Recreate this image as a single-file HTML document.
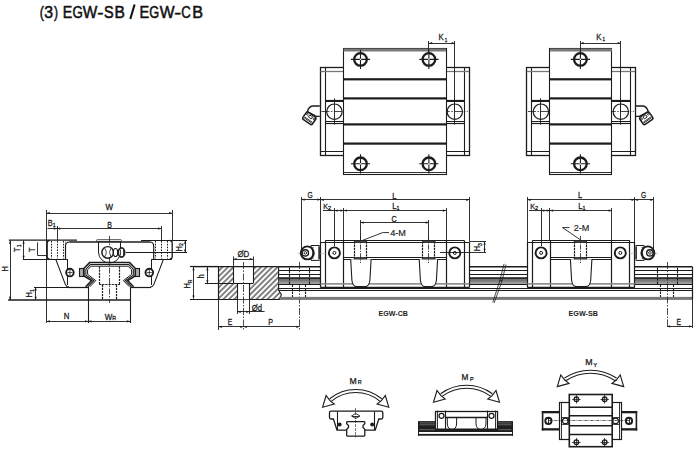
<!DOCTYPE html>
<html><head><meta charset="utf-8"><style>
html,body{margin:0;padding:0;background:#fff;}
svg{display:block;}
</style></head><body>
<svg width="697" height="454" viewBox="0 0 697 454">
<rect width="697" height="454" fill="#fff"/>
<text x="0" y="0" transform="translate(39.83,17.8) scale(0.733,1)" font-family="Liberation Sans" font-size="17.0" fill="#111" stroke="#111" stroke-width="0.55">(</text>
<text x="0" y="0" transform="translate(44.30,17.8) scale(0.931,1)" font-family="Liberation Sans" font-size="17.0" fill="#111" stroke="#111" stroke-width="0.55">3</text>
<text x="0" y="0" transform="translate(53.93,17.8) scale(0.710,1)" font-family="Liberation Sans" font-size="17.0" fill="#111" stroke="#111" stroke-width="0.55">)</text>
<text x="0" y="0" transform="translate(62.74,17.8) scale(0.836,1)" font-family="Liberation Sans" font-size="17.0" fill="#111" stroke="#111" stroke-width="0.55">E</text>
<text x="0" y="0" transform="translate(72.53,17.8) scale(0.784,1)" font-family="Liberation Sans" font-size="17.0" fill="#111" stroke="#111" stroke-width="0.55">G</text>
<text x="0" y="0" transform="translate(82.84,17.8) scale(0.905,1)" font-family="Liberation Sans" font-size="17.0" fill="#111" stroke="#111" stroke-width="0.55">W</text>
<text x="0" y="0" transform="translate(97.17,17.8) scale(1.104,1)" font-family="Liberation Sans" font-size="17.0" fill="#111" stroke="#111" stroke-width="0.55">-</text>
<text x="0" y="0" transform="translate(103.95,17.8) scale(0.848,1)" font-family="Liberation Sans" font-size="17.0" fill="#111" stroke="#111" stroke-width="0.55">S</text>
<text x="0" y="0" transform="translate(114.52,17.8) scale(0.918,1)" font-family="Liberation Sans" font-size="17.0" fill="#111" stroke="#111" stroke-width="0.55">B</text>
<text x="0" y="0" transform="translate(139.50,17.8) scale(0.857,1)" font-family="Liberation Sans" font-size="17.0" fill="#111" stroke="#111" stroke-width="0.55">E</text>
<text x="0" y="0" transform="translate(149.16,17.8) scale(0.748,1)" font-family="Liberation Sans" font-size="17.0" fill="#111" stroke="#111" stroke-width="0.55">G</text>
<text x="0" y="0" transform="translate(159.74,17.8) scale(0.924,1)" font-family="Liberation Sans" font-size="17.0" fill="#111" stroke="#111" stroke-width="0.55">W</text>
<text x="0" y="0" transform="translate(174.18,17.8) scale(1.224,1)" font-family="Liberation Sans" font-size="17.0" fill="#111" stroke="#111" stroke-width="0.55">-</text>
<text x="0" y="0" transform="translate(181.23,17.8) scale(0.771,1)" font-family="Liberation Sans" font-size="17.0" fill="#111" stroke="#111" stroke-width="0.55">C</text>
<text x="0" y="0" transform="translate(192.37,17.8) scale(0.951,1)" font-family="Liberation Sans" font-size="17.0" fill="#111" stroke="#111" stroke-width="0.55">B</text>
<line x1="130.3" y1="19" x2="134.6" y2="4.5" stroke="#111" stroke-width="2.1"/>
<g transform="translate(320.5,100) scale(1,1)">
<path d="M-0.7 6.0 L-8 6.0 Q-11.5 6.4 -13.2 11.6 L-4.2 16.4 L-0.7 16.4" stroke="#1c1c1c" stroke-width="1.4" fill="#fff" />
<g transform="translate(-11.2,18.3) rotate(35)">
<rect x="-5.8" y="-4.4" width="11.6" height="8.8" stroke="#1c1c1c" stroke-width="1.5" fill="#fff" rx="1.8"/>
<ellipse cx="0.2" cy="-1.8" rx="2" ry="1.4" stroke="#1c1c1c" stroke-width="0.9" fill="none"/>
<line x1="-4.8" y1="1.5" x2="4.8" y2="1.5" stroke="#1c1c1c" stroke-width="0.8" stroke-linecap="butt"/>
<line x1="-4.8" y1="2.5" x2="4.8" y2="2.5" stroke="#1c1c1c" stroke-width="0.8" stroke-linecap="butt"/>
<circle cx="-4" cy="-2.2" r="0.9" stroke="#1c1c1c" stroke-width="0.8" fill="none"/>
<circle cx="4.2" cy="-2.2" r="0.9" stroke="#1c1c1c" stroke-width="0.8" fill="none"/>
</g></g>
<g transform="translate(635.1,100) scale(-1,1)">
<path d="M-0.7 6.0 L-8 6.0 Q-11.5 6.4 -13.2 11.6 L-4.2 16.4 L-0.7 16.4" stroke="#1c1c1c" stroke-width="1.4" fill="#fff" />
<g transform="translate(-11.2,18.3) rotate(35)">
<rect x="-5.8" y="-4.4" width="11.6" height="8.8" stroke="#1c1c1c" stroke-width="1.5" fill="#fff" rx="1.8"/>
<ellipse cx="0.2" cy="-1.8" rx="2" ry="1.4" stroke="#1c1c1c" stroke-width="0.9" fill="none"/>
<line x1="-4.8" y1="1.5" x2="4.8" y2="1.5" stroke="#1c1c1c" stroke-width="0.8" stroke-linecap="butt"/>
<line x1="-4.8" y1="2.5" x2="4.8" y2="2.5" stroke="#1c1c1c" stroke-width="0.8" stroke-linecap="butt"/>
<circle cx="-4" cy="-2.2" r="0.9" stroke="#1c1c1c" stroke-width="0.8" fill="none"/>
<circle cx="4.2" cy="-2.2" r="0.9" stroke="#1c1c1c" stroke-width="0.8" fill="none"/>
</g></g>
<rect x="320.5" y="67.5" width="149.0" height="88.0" stroke="#1c1c1c" stroke-width="1.3" fill="none"/>
<line x1="325.5" y1="67.5" x2="325.5" y2="155.8" stroke="#1c1c1c" stroke-width="1.1" stroke-linecap="butt"/>
<line x1="464.5" y1="67.5" x2="464.5" y2="155.8" stroke="#1c1c1c" stroke-width="1.1" stroke-linecap="butt"/>
<line x1="320.5" y1="71.5" x2="343.6" y2="71.5" stroke="#777" stroke-width="1.3" stroke-linecap="butt"/>
<line x1="446.1" y1="71.5" x2="469.1" y2="71.5" stroke="#777" stroke-width="1.3" stroke-linecap="butt"/>
<line x1="320.5" y1="151.5" x2="343.6" y2="151.5" stroke="#1c1c1c" stroke-width="1.0" stroke-linecap="butt"/>
<line x1="446.1" y1="151.5" x2="469.1" y2="151.5" stroke="#1c1c1c" stroke-width="1.0" stroke-linecap="butt"/>
<line x1="325.3" y1="100.5" x2="343.6" y2="100.5" stroke="#1c1c1c" stroke-width="1.2" stroke-linecap="butt"/>
<line x1="325.3" y1="101.5" x2="343.6" y2="101.5" stroke="#1c1c1c" stroke-width="1.0" stroke-linecap="butt"/>
<line x1="325.3" y1="121.5" x2="343.6" y2="121.5" stroke="#1c1c1c" stroke-width="1.0" stroke-linecap="butt"/>
<line x1="325.3" y1="123.5" x2="343.6" y2="123.5" stroke="#1c1c1c" stroke-width="1.2" stroke-linecap="butt"/>
<line x1="446.1" y1="100.5" x2="464.3" y2="100.5" stroke="#1c1c1c" stroke-width="1.2" stroke-linecap="butt"/>
<line x1="446.1" y1="101.5" x2="464.3" y2="101.5" stroke="#1c1c1c" stroke-width="1.0" stroke-linecap="butt"/>
<line x1="446.1" y1="121.5" x2="464.3" y2="121.5" stroke="#1c1c1c" stroke-width="1.0" stroke-linecap="butt"/>
<line x1="446.1" y1="123.5" x2="464.3" y2="123.5" stroke="#1c1c1c" stroke-width="1.2" stroke-linecap="butt"/>
<circle cx="334.4" cy="111.7" r="7.7" stroke="#1c1c1c" stroke-width="1.2" fill="none"/>
<line x1="321.4" y1="111.5" x2="347.4" y2="111.5" stroke="#1c1c1c" stroke-width="0.8" stroke-linecap="butt" stroke-dasharray="8,1.5,1.5,1.5"/>
<line x1="334.5" y1="98.3" x2="334.5" y2="124.8" stroke="#1c1c1c" stroke-width="0.9" stroke-linecap="butt"/>
<circle cx="454.8" cy="111.7" r="7.7" stroke="#1c1c1c" stroke-width="1.2" fill="none"/>
<line x1="441.8" y1="111.5" x2="467.8" y2="111.5" stroke="#1c1c1c" stroke-width="0.8" stroke-linecap="butt" stroke-dasharray="8,1.5,1.5,1.5"/>
<line x1="454.5" y1="98.3" x2="454.5" y2="124.8" stroke="#1c1c1c" stroke-width="0.9" stroke-linecap="butt"/>
<rect x="343.6" y="48.5" width="102.5" height="125.9" fill="#fff"/>
<rect x="343.5" y="48.5" width="103.0" height="126.0" stroke="#1c1c1c" stroke-width="1.1" fill="none"/>
<rect x="343.6" y="48.5" width="102.5" height="3.0" fill="#7a7a7a"/>
<rect x="343.6" y="78.2" width="102.5" height="2.2" fill="#1c1c1c"/>
<rect x="343.6" y="97.30000000000001" width="102.5" height="2.2" fill="#1c1c1c"/>
<rect x="343.6" y="123.30000000000001" width="102.5" height="2.2" fill="#1c1c1c"/>
<rect x="343.6" y="142.5" width="102.5" height="2.2" fill="#1c1c1c"/>
<line x1="343.6" y1="172.5" x2="446.1" y2="172.5" stroke="#1c1c1c" stroke-width="0.9" stroke-linecap="butt"/>
<circle cx="360.5" cy="59.4" r="6.3" stroke="#1c1c1c" stroke-width="2.3" fill="none"/>
<line x1="350.9" y1="59.4" x2="370.1" y2="59.4" stroke="#1c1c1c" stroke-width="1.1" stroke-dasharray="9.0,1.2"/>
<line x1="360.5" y1="49.800000000000004" x2="360.5" y2="69.0" stroke="#1c1c1c" stroke-width="1.1" stroke-dasharray="9.0,1.2"/>
<circle cx="360.5" cy="163.8" r="6.3" stroke="#1c1c1c" stroke-width="2.3" fill="none"/>
<line x1="350.9" y1="163.8" x2="370.1" y2="163.8" stroke="#1c1c1c" stroke-width="1.1" stroke-dasharray="9.0,1.2"/>
<line x1="360.5" y1="154.2" x2="360.5" y2="173.40000000000003" stroke="#1c1c1c" stroke-width="1.1" stroke-dasharray="9.0,1.2"/>
<circle cx="428.9" cy="59.4" r="6.3" stroke="#1c1c1c" stroke-width="2.3" fill="none"/>
<line x1="419.29999999999995" y1="59.4" x2="438.5" y2="59.4" stroke="#1c1c1c" stroke-width="1.1" stroke-dasharray="9.0,1.2"/>
<line x1="428.9" y1="49.800000000000004" x2="428.9" y2="69.0" stroke="#1c1c1c" stroke-width="1.1" stroke-dasharray="9.0,1.2"/>
<circle cx="428.9" cy="163.8" r="6.3" stroke="#1c1c1c" stroke-width="2.3" fill="none"/>
<line x1="419.29999999999995" y1="163.8" x2="438.5" y2="163.8" stroke="#1c1c1c" stroke-width="1.1" stroke-dasharray="9.0,1.2"/>
<line x1="428.9" y1="154.2" x2="428.9" y2="173.40000000000003" stroke="#1c1c1c" stroke-width="1.1" stroke-dasharray="9.0,1.2"/>
<line x1="428.5" y1="41" x2="428.5" y2="52" stroke="#1c1c1c" stroke-width="0.9" stroke-linecap="butt"/>
<line x1="454.5" y1="41" x2="454.5" y2="111.5" stroke="#1c1c1c" stroke-width="0.9" stroke-linecap="butt"/>
<line x1="428.9" y1="43.5" x2="454.8" y2="43.5" stroke="#1c1c1c" stroke-width="0.9" stroke-linecap="butt"/>
<path d="M428.90 43.20 L432.10 42.10 L432.10 44.30 Z" fill="#1c1c1c"/>
<path d="M454.80 43.20 L451.60 44.30 L451.60 42.10 Z" fill="#1c1c1c"/>
<rect x="526.5" y="67.5" width="109.0" height="88.0" stroke="#1c1c1c" stroke-width="1.3" fill="none"/>
<line x1="531.5" y1="67.5" x2="531.5" y2="155.8" stroke="#1c1c1c" stroke-width="1.1" stroke-linecap="butt"/>
<line x1="630.5" y1="67.5" x2="630.5" y2="155.8" stroke="#1c1c1c" stroke-width="1.1" stroke-linecap="butt"/>
<line x1="526.9" y1="71.5" x2="549.9" y2="71.5" stroke="#777" stroke-width="1.3" stroke-linecap="butt"/>
<line x1="611.9" y1="71.5" x2="635.1" y2="71.5" stroke="#777" stroke-width="1.3" stroke-linecap="butt"/>
<line x1="526.9" y1="151.5" x2="549.9" y2="151.5" stroke="#1c1c1c" stroke-width="1.0" stroke-linecap="butt"/>
<line x1="611.9" y1="151.5" x2="635.1" y2="151.5" stroke="#1c1c1c" stroke-width="1.0" stroke-linecap="butt"/>
<line x1="531.6999999999999" y1="100.5" x2="549.9" y2="100.5" stroke="#1c1c1c" stroke-width="1.2" stroke-linecap="butt"/>
<line x1="531.6999999999999" y1="101.5" x2="549.9" y2="101.5" stroke="#1c1c1c" stroke-width="1.0" stroke-linecap="butt"/>
<line x1="531.6999999999999" y1="121.5" x2="549.9" y2="121.5" stroke="#1c1c1c" stroke-width="1.0" stroke-linecap="butt"/>
<line x1="531.6999999999999" y1="123.5" x2="549.9" y2="123.5" stroke="#1c1c1c" stroke-width="1.2" stroke-linecap="butt"/>
<line x1="611.9" y1="100.5" x2="630.3000000000001" y2="100.5" stroke="#1c1c1c" stroke-width="1.2" stroke-linecap="butt"/>
<line x1="611.9" y1="101.5" x2="630.3000000000001" y2="101.5" stroke="#1c1c1c" stroke-width="1.0" stroke-linecap="butt"/>
<line x1="611.9" y1="121.5" x2="630.3000000000001" y2="121.5" stroke="#1c1c1c" stroke-width="1.0" stroke-linecap="butt"/>
<line x1="611.9" y1="123.5" x2="630.3000000000001" y2="123.5" stroke="#1c1c1c" stroke-width="1.2" stroke-linecap="butt"/>
<circle cx="540.9" cy="111.7" r="7.7" stroke="#1c1c1c" stroke-width="1.2" fill="none"/>
<line x1="527.9" y1="111.5" x2="553.9" y2="111.5" stroke="#1c1c1c" stroke-width="0.8" stroke-linecap="butt" stroke-dasharray="8,1.5,1.5,1.5"/>
<line x1="540.5" y1="98.3" x2="540.5" y2="124.8" stroke="#1c1c1c" stroke-width="0.9" stroke-linecap="butt"/>
<circle cx="620.8" cy="111.7" r="7.7" stroke="#1c1c1c" stroke-width="1.2" fill="none"/>
<line x1="607.8" y1="111.5" x2="633.8" y2="111.5" stroke="#1c1c1c" stroke-width="0.8" stroke-linecap="butt" stroke-dasharray="8,1.5,1.5,1.5"/>
<line x1="620.5" y1="98.3" x2="620.5" y2="124.8" stroke="#1c1c1c" stroke-width="0.9" stroke-linecap="butt"/>
<rect x="549.9" y="48.5" width="62.0" height="125.9" fill="#fff"/>
<rect x="549.5" y="48.5" width="62.0" height="126.0" stroke="#1c1c1c" stroke-width="1.1" fill="none"/>
<rect x="549.9" y="48.5" width="62.0" height="3.0" fill="#7a7a7a"/>
<rect x="549.9" y="78.2" width="62.0" height="2.2" fill="#1c1c1c"/>
<rect x="549.9" y="97.30000000000001" width="62.0" height="2.2" fill="#1c1c1c"/>
<rect x="549.9" y="123.30000000000001" width="62.0" height="2.2" fill="#1c1c1c"/>
<rect x="549.9" y="142.5" width="62.0" height="2.2" fill="#1c1c1c"/>
<line x1="549.9" y1="172.5" x2="611.9" y2="172.5" stroke="#1c1c1c" stroke-width="0.9" stroke-linecap="butt"/>
<circle cx="580.4" cy="59.4" r="6.3" stroke="#1c1c1c" stroke-width="2.3" fill="none"/>
<line x1="570.8000000000001" y1="59.4" x2="589.9999999999999" y2="59.4" stroke="#1c1c1c" stroke-width="1.1" stroke-dasharray="9.0,1.2"/>
<line x1="580.4" y1="49.800000000000004" x2="580.4" y2="69.0" stroke="#1c1c1c" stroke-width="1.1" stroke-dasharray="9.0,1.2"/>
<circle cx="580.4" cy="163.8" r="6.3" stroke="#1c1c1c" stroke-width="2.3" fill="none"/>
<line x1="570.8000000000001" y1="163.8" x2="589.9999999999999" y2="163.8" stroke="#1c1c1c" stroke-width="1.1" stroke-dasharray="9.0,1.2"/>
<line x1="580.4" y1="154.2" x2="580.4" y2="173.40000000000003" stroke="#1c1c1c" stroke-width="1.1" stroke-dasharray="9.0,1.2"/>
<line x1="580.5" y1="41" x2="580.5" y2="52" stroke="#1c1c1c" stroke-width="0.9" stroke-linecap="butt"/>
<line x1="620.5" y1="41" x2="620.5" y2="111.5" stroke="#1c1c1c" stroke-width="0.9" stroke-linecap="butt"/>
<line x1="580.4" y1="43.5" x2="620.8" y2="43.5" stroke="#1c1c1c" stroke-width="0.9" stroke-linecap="butt"/>
<path d="M580.40 43.20 L583.60 42.10 L583.60 44.30 Z" fill="#1c1c1c"/>
<path d="M620.80 43.20 L617.60 44.30 L617.60 42.10 Z" fill="#1c1c1c"/>
<text x="0" y="0" transform="translate(438.5,39.7) scale(0.88,1)" font-family="Liberation Sans" font-size="8.9" fill="#1c1c1c" text-anchor="start" stroke="#1c1c1c" stroke-width="0.28" >K<tspan font-size="5.2" dy="1.8"><tspan dx="1.2">1</tspan></tspan></text>
<text x="0" y="0" transform="translate(596.3,39.5) scale(0.88,1)" font-family="Liberation Sans" font-size="8.9" fill="#1c1c1c" text-anchor="start" stroke="#1c1c1c" stroke-width="0.28" >K<tspan font-size="5.2" dy="1.8"><tspan dx="1.2">1</tspan></tspan></text>
<line x1="46.5" y1="210" x2="46.5" y2="323" stroke="#1c1c1c" stroke-width="0.9" stroke-linecap="butt"/>
<line x1="172.5" y1="210" x2="172.5" y2="240.5" stroke="#1c1c1c" stroke-width="0.9" stroke-linecap="butt"/>
<line x1="57.5" y1="226" x2="57.5" y2="240" stroke="#1c1c1c" stroke-width="0.9" stroke-linecap="butt"/>
<line x1="161.5" y1="226" x2="161.5" y2="240" stroke="#1c1c1c" stroke-width="0.9" stroke-linecap="butt"/>
<line x1="46.6" y1="213.5" x2="172.2" y2="213.5" stroke="#1c1c1c" stroke-width="0.9" stroke-linecap="butt"/>
<path d="M46.60 213.00 L49.80 211.90 L49.80 214.10 Z" fill="#1c1c1c"/>
<path d="M172.20 213.00 L169.00 214.10 L169.00 211.90 Z" fill="#1c1c1c"/>
<line x1="57" y1="228.5" x2="161.4" y2="228.5" stroke="#1c1c1c" stroke-width="0.9" stroke-linecap="butt"/>
<path d="M57.00 228.60 L60.20 227.50 L60.20 229.70 Z" fill="#1c1c1c"/>
<path d="M161.40 228.60 L158.20 229.70 L158.20 227.50 Z" fill="#1c1c1c"/>
<line x1="47.5" y1="228.5" x2="57" y2="228.5" stroke="#1c1c1c" stroke-width="0.9" stroke-linecap="butt"/>
<path d="M57.00 228.60 L53.80 229.70 L53.80 227.50 Z" fill="#1c1c1c"/>
<text x="0" y="0" transform="translate(109.3,210.4) scale(0.95,1)" font-family="Liberation Sans" font-size="8.4" font-weight="normal" text-anchor="middle" fill="#1c1c1c"  stroke="#1c1c1c" stroke-width="0.28">W</text>
<text x="0" y="0" transform="translate(109.5,227.5) scale(0.85,1)" font-family="Liberation Sans" font-size="8.2" font-weight="normal" text-anchor="middle" fill="#1c1c1c"  stroke="#1c1c1c" stroke-width="0.28">B</text>
<text x="0" y="0" transform="translate(47.8,226) scale(0.88,1)" font-family="Liberation Sans" font-size="8.4" fill="#1c1c1c" text-anchor="start" stroke="#1c1c1c" stroke-width="0.28" >B<tspan font-size="6" dy="0.5">1</tspan></text>
<line x1="8.8" y1="240.1" x2="77" y2="240.1" stroke="#1c1c1c" stroke-width="1.4" stroke-linecap="butt"/>
<line x1="141" y1="240.5" x2="187" y2="240.5" stroke="#1c1c1c" stroke-width="1.1" stroke-linecap="butt"/>
<line x1="69.3" y1="242" x2="149.9" y2="242" stroke="#1c1c1c" stroke-width="1.5" stroke-linecap="butt"/>
<line x1="10.5" y1="240.5" x2="10.5" y2="300" stroke="#1c1c1c" stroke-width="0.9" stroke-linecap="butt"/>
<path d="M10.00 240.50 L11.10 243.70 L8.90 243.70 Z" fill="#1c1c1c"/>
<path d="M10.00 300.00 L8.90 296.80 L11.10 296.80 Z" fill="#1c1c1c"/>
<line x1="23.5" y1="240.5" x2="23.5" y2="259" stroke="#1c1c1c" stroke-width="0.9" stroke-linecap="butt"/>
<path d="M23.60 240.50 L24.70 243.70 L22.50 243.70 Z" fill="#1c1c1c"/>
<path d="M23.60 259.00 L22.50 255.80 L24.70 255.80 Z" fill="#1c1c1c"/>
<line x1="22.9" y1="259.5" x2="67.2" y2="259.5" stroke="#1c1c1c" stroke-width="1" stroke-linecap="butt"/>
<line x1="37.5" y1="242.3" x2="37.5" y2="255" stroke="#1c1c1c" stroke-width="0.9" stroke-linecap="butt"/>
<line x1="37.3" y1="255.5" x2="46.6" y2="255.5" stroke="#1c1c1c" stroke-width="0.9" stroke-linecap="butt"/>
<line x1="35.5" y1="287.2" x2="35.5" y2="300" stroke="#1c1c1c" stroke-width="0.9" stroke-linecap="butt"/>
<path d="M35.70 287.20 L36.80 290.40 L34.60 290.40 Z" fill="#1c1c1c"/>
<path d="M35.70 300.00 L34.60 296.80 L36.80 296.80 Z" fill="#1c1c1c"/>
<line x1="34" y1="287.5" x2="68" y2="287.5" stroke="#1c1c1c" stroke-width="1" stroke-linecap="butt"/>
<line x1="8.1" y1="300" x2="130" y2="300" stroke="#1c1c1c" stroke-width="1.4" stroke-linecap="butt"/>
<text font-family="Liberation Sans" font-size="8.4" fill="#1c1c1c" transform="translate(7.8,271.4) rotate(-90) scale(0.88,1)" stroke="#1c1c1c" stroke-width="0.28" >H</text>
<text font-family="Liberation Sans" font-size="8.4" fill="#1c1c1c" transform="translate(19.8,251.9) rotate(-90) scale(0.88,1)" stroke="#1c1c1c" stroke-width="0.28" >T<tspan font-size="5.8" dy="1.6">1</tspan></text>
<text font-family="Liberation Sans" font-size="8.4" fill="#1c1c1c" transform="translate(34.9,251.9) rotate(-90) scale(0.88,1)" stroke="#1c1c1c" stroke-width="0.28" >T</text>
<text font-family="Liberation Sans" font-size="8.4" fill="#1c1c1c" transform="translate(32.1,297.4) rotate(-90) scale(0.88,1)" stroke="#1c1c1c" stroke-width="0.28" >H<tspan font-size="5.8" dy="1.6">1</tspan></text>
<text font-family="Liberation Sans" font-size="8.4" fill="#1c1c1c" transform="translate(181.6,251.4) rotate(-90) scale(0.88,1)" stroke="#1c1c1c" stroke-width="0.28" >H<tspan font-size="5.8" dy="1.6">2</tspan></text>
<line x1="185.5" y1="240.5" x2="185.5" y2="252.7" stroke="#1c1c1c" stroke-width="0.9" stroke-linecap="butt"/>
<path d="M185.10 240.50 L186.20 243.70 L184.00 243.70 Z" fill="#1c1c1c"/>
<path d="M185.10 252.70 L184.00 249.50 L186.20 249.50 Z" fill="#1c1c1c"/>
<line x1="126" y1="252.5" x2="187" y2="252.5" stroke="#1c1c1c" stroke-width="1.1" stroke-linecap="butt"/>
<line x1="46.6" y1="321.5" x2="88.2" y2="321.5" stroke="#1c1c1c" stroke-width="0.9" stroke-linecap="butt"/>
<path d="M46.60 321.30 L49.80 320.20 L49.80 322.40 Z" fill="#1c1c1c"/>
<path d="M88.20 321.30 L85.00 322.40 L85.00 320.20 Z" fill="#1c1c1c"/>
<line x1="88.2" y1="321.5" x2="130" y2="321.5" stroke="#1c1c1c" stroke-width="0.9" stroke-linecap="butt"/>
<path d="M88.20 321.30 L91.40 320.20 L91.40 322.40 Z" fill="#1c1c1c"/>
<path d="M130.00 321.30 L126.80 322.40 L126.80 320.20 Z" fill="#1c1c1c"/>
<line x1="88.5" y1="287" x2="88.5" y2="323" stroke="#1c1c1c" stroke-width="1.1" stroke-linecap="butt"/>
<line x1="130.5" y1="287" x2="130.5" y2="323" stroke="#1c1c1c" stroke-width="1.1" stroke-linecap="butt"/>
<text x="0" y="0" transform="translate(66.5,319.4) scale(0.9,1)" font-family="Liberation Sans" font-size="8.6" font-weight="normal" text-anchor="middle" fill="#1c1c1c"  stroke="#1c1c1c" stroke-width="0.28">N</text>
<text x="0" y="0" transform="translate(104.8,319.6) scale(0.95,1)" font-family="Liberation Sans" font-size="8.4" fill="#1c1c1c" text-anchor="start" stroke="#1c1c1c" stroke-width="0.28" >W<tspan font-size="5.6" dy="0.4">R</tspan></text>
<path d="M49.5 240.5 Q47.2 240.5 47.2 243 L47.2 256.5 Q47.2 259 49.5 259" stroke="#1c1c1c" stroke-width="1.3" fill="none" />
<line x1="51.5" y1="241" x2="51.5" y2="258.5" stroke="#1c1c1c" stroke-width="1" stroke-linecap="butt" stroke-dasharray="1.6,1.2"/>
<line x1="57.5" y1="241" x2="57.5" y2="258.5" stroke="#1c1c1c" stroke-width="1" stroke-linecap="butt" stroke-dasharray="1.6,1.2"/>
<line x1="63.5" y1="241" x2="63.5" y2="258.5" stroke="#1c1c1c" stroke-width="1" stroke-linecap="butt" stroke-dasharray="1.6,1.2"/>
<line x1="65.5" y1="241" x2="65.5" y2="258.5" stroke="#777" stroke-width="0.6" stroke-linecap="butt"/>
<path d="M169.8 240.5 Q172.2 240.5 172.2 243 L172.2 256.5 Q172.2 259 169.8 259" stroke="#1c1c1c" stroke-width="1.3" fill="none" />
<line x1="155.5" y1="241" x2="155.5" y2="258.5" stroke="#1c1c1c" stroke-width="1" stroke-linecap="butt" stroke-dasharray="1.6,1.2"/>
<line x1="161.5" y1="241" x2="161.5" y2="258.5" stroke="#1c1c1c" stroke-width="1" stroke-linecap="butt" stroke-dasharray="1.6,1.2"/>
<line x1="167.5" y1="241" x2="167.5" y2="258.5" stroke="#1c1c1c" stroke-width="1" stroke-linecap="butt" stroke-dasharray="1.6,1.2"/>
<line x1="151.5" y1="259.5" x2="172" y2="259.5" stroke="#1c1c1c" stroke-width="1" stroke-linecap="butt"/>
<path d="M55.7 259.1 L65.4 284.6 Q66.4 287 69 287" stroke="#1c1c1c" stroke-width="1.1" fill="none" />
<line x1="67.5" y1="259.1" x2="67.5" y2="285" stroke="#1c1c1c" stroke-width="1" stroke-linecap="butt"/>
<path d="M163.5 259.1 L153.8 284.6 Q152.8 287 150.2 287" stroke="#1c1c1c" stroke-width="1.1" fill="none" />
<line x1="151.5" y1="259.1" x2="151.5" y2="285" stroke="#1c1c1c" stroke-width="1" stroke-linecap="butt"/>
<line x1="68" y1="287.5" x2="88.2" y2="287.5" stroke="#1c1c1c" stroke-width="1.2" stroke-linecap="butt"/>
<line x1="130" y1="287.5" x2="151" y2="287.5" stroke="#1c1c1c" stroke-width="1.2" stroke-linecap="butt"/>
<path d="M65.5 259 L65.5 246 Q65.5 242 69.5 242" stroke="#1c1c1c" stroke-width="1.2" fill="none" />
<path d="M153.7 259 L153.7 246 Q153.7 242 149.7 242" stroke="#1c1c1c" stroke-width="1.2" fill="none" />
<circle cx="69.9" cy="272.6" r="3.8" stroke="#1c1c1c" stroke-width="1.9" fill="#fff"/>
<line x1="67.30000000000001" y1="272.6" x2="72.5" y2="272.6" stroke="#1c1c1c" stroke-width="0.8"/><line x1="69.9" y1="270" x2="69.9" y2="275.2" stroke="#1c1c1c" stroke-width="0.8"/>
<circle cx="149.3" cy="272.6" r="3.8" stroke="#1c1c1c" stroke-width="1.9" fill="#fff"/>
<line x1="146.70000000000002" y1="272.6" x2="151.9" y2="272.6" stroke="#1c1c1c" stroke-width="0.8"/><line x1="149.3" y1="270" x2="149.3" y2="275.2" stroke="#1c1c1c" stroke-width="0.8"/>
<path d="M85.6 286.8 L91.6 280.6 L84.0 276.0 L84.0 268.3 L89.6 262.6 L109.6 262.6 L129.6 262.6 L135.2 268.3 L135.2 276.0 L127.6 280.6 L133.6 286.8" stroke="#1c1c1c" stroke-width="1.5" fill="none" stroke-linejoin="miter"/>
<path d="M87.7 286.8 L93.8 280.6 L85.9 275.2 L85.9 269.1 L90.4 264.5 L109.6 264.5 L128.8 264.5 L133.3 269.1 L133.3 275.2 L125.4 280.6 L131.5 286.8" stroke="#1c1c1c" stroke-width="1.1" fill="none" stroke-linejoin="miter"/>
<path d="M89.8 286.8 L95.8 280.6 L87.6 274.4 L87.6 269.8 L91.1 266.2 L109.6 266.2 L128.1 266.2 L131.6 269.8 L131.6 274.4 L123.4 280.6 L129.4 286.8" stroke="#1c1c1c" stroke-width="1.0" fill="none" stroke-linejoin="miter"/>
<rect x="79.6" y="268.8" width="4" height="7.2" fill="#aaa"/>
<rect x="79.5" y="268.5" width="4.0" height="8.0" stroke="#1c1c1c" stroke-width="1.1" fill="none"/>
<rect x="135.6" y="268.8" width="4" height="7.2" fill="#aaa"/>
<rect x="135.5" y="268.5" width="4.0" height="8.0" stroke="#1c1c1c" stroke-width="1.1" fill="none"/>
<line x1="99.5" y1="266.5" x2="99.5" y2="284.7" stroke="#1c1c1c" stroke-width="1.2" stroke-linecap="butt" stroke-dasharray="2.2,0.9"/>
<line x1="119.5" y1="266.5" x2="119.5" y2="284.7" stroke="#1c1c1c" stroke-width="1.2" stroke-linecap="butt" stroke-dasharray="2.2,0.9"/>
<line x1="99.2" y1="284.5" x2="119.9" y2="284.5" stroke="#1c1c1c" stroke-width="1.1" stroke-linecap="butt" stroke-dasharray="2.2,0.9"/>
<line x1="102.5" y1="284.7" x2="102.5" y2="299" stroke="#1c1c1c" stroke-width="1.2" stroke-linecap="butt" stroke-dasharray="2.2,0.9"/>
<line x1="116.5" y1="284.7" x2="116.5" y2="299" stroke="#1c1c1c" stroke-width="1.2" stroke-linecap="butt" stroke-dasharray="2.2,0.9"/>
<line x1="109.5" y1="236" x2="109.5" y2="303" stroke="#1c1c1c" stroke-width="0.8" stroke-linecap="butt" stroke-dasharray="6,1.5,1.5,1.5"/>
<path d="M98.5 241.5 L98.5 252 A11 11 0 0 0 120.5 252 L120.5 241.5" stroke="#1c1c1c" stroke-width="1.0" fill="none" />
<rect x="96.5" y="239.6" width="25" height="1.8" stroke="#1c1c1c" stroke-width="0.7" fill="none" rx="0.9"/>
<circle cx="107.7" cy="252.4" r="5.8" stroke="#1c1c1c" stroke-width="1.4" fill="#fff"/>
<path d="M104.5 248 Q108 252 104.5 257" stroke="#1c1c1c" stroke-width="0.8" fill="none" />
<path d="M111 248 Q108 252 111 257" stroke="#1c1c1c" stroke-width="0.8" fill="none" />
<ellipse cx="115.5" cy="252.5" rx="2.2" ry="4" stroke="#1c1c1c" stroke-width="1.2" fill="#fff"/>
<ellipse cx="121.5" cy="252.5" rx="3.2" ry="4.6" stroke="#1c1c1c" stroke-width="1.6" fill="#fff"/>
<line x1="120.5" y1="249.5" x2="120.5" y2="255.5" stroke="#1c1c1c" stroke-width="0.8" stroke-linecap="butt"/>
<line x1="123.5" y1="249.5" x2="123.5" y2="255.5" stroke="#1c1c1c" stroke-width="0.8" stroke-linecap="butt"/>
<line x1="190" y1="266.5" x2="218.5" y2="266.5" stroke="#1c1c1c" stroke-width="1.2" stroke-linecap="butt"/>
<line x1="190" y1="299.5" x2="280" y2="299.5" stroke="#1c1c1c" stroke-width="1.2" stroke-linecap="butt"/>
<line x1="193.5" y1="267.1" x2="193.5" y2="298.7" stroke="#1c1c1c" stroke-width="0.9" stroke-linecap="butt"/>
<path d="M193.50 267.10 L194.60 270.30 L192.40 270.30 Z" fill="#1c1c1c"/>
<path d="M193.50 298.70 L192.40 295.50 L194.60 295.50 Z" fill="#1c1c1c"/>
<text font-family="Liberation Sans" font-size="8.4" fill="#1c1c1c" transform="translate(190.2,288.6) rotate(-90) scale(0.88,1)" stroke="#1c1c1c" stroke-width="0.28" >H<tspan font-size="5.8" dy="1.6">R</tspan></text>
<line x1="207.5" y1="267.1" x2="207.5" y2="283.5" stroke="#1c1c1c" stroke-width="0.9" stroke-linecap="butt"/>
<path d="M207.40 267.10 L208.50 270.30 L206.30 270.30 Z" fill="#1c1c1c"/>
<path d="M207.40 283.50 L206.30 280.30 L208.50 280.30 Z" fill="#1c1c1c"/>
<line x1="205" y1="283.5" x2="233.5" y2="283.5" stroke="#1c1c1c" stroke-width="1" stroke-linecap="butt"/>
<text font-family="Liberation Sans" font-size="8.4" fill="#1c1c1c" transform="translate(203.8,278.6) rotate(-90) scale(0.88,1)" stroke="#1c1c1c" stroke-width="0.28" >h</text>
<defs><pattern id="hatch" patternUnits="userSpaceOnUse" width="3.9" height="3.9" patternTransform="rotate(45) translate(1,0)"><line x1="1.95" y1="0" x2="1.95" y2="3.9" stroke="#111" stroke-width="1.05"/></pattern></defs>
<path d="M218.6 266.6 L278.6 266.6 L278.6 290.2 L281.4 294.6 L279.5 299.2 L218.6 299.2 Z" fill="url(#hatch)"/>
<rect x="233.5" y="266.6" width="19.5" height="16.799999999999955" fill="#fff"/>
<rect x="237.5" y="283.4" width="12" height="15.800000000000011" fill="#fff"/>
<line x1="218.5" y1="266.6" x2="218.5" y2="299.2" stroke="#1c1c1c" stroke-width="1.2" stroke-linecap="butt"/>
<path d="M278.6 266.6 L278.6 290.2 L281.4 294.6 L279.5 299.2" stroke="#1c1c1c" stroke-width="1.1" fill="none" />
<line x1="233.5" y1="266.6" x2="233.5" y2="283.4" stroke="#1c1c1c" stroke-width="1.1" stroke-linecap="butt"/>
<line x1="253.5" y1="266.6" x2="253.5" y2="283.4" stroke="#1c1c1c" stroke-width="1.1" stroke-linecap="butt"/>
<line x1="233.5" y1="283.5" x2="253" y2="283.5" stroke="#1c1c1c" stroke-width="1.1" stroke-linecap="butt"/>
<line x1="237.5" y1="283.4" x2="237.5" y2="299.2" stroke="#1c1c1c" stroke-width="1.1" stroke-linecap="butt"/>
<line x1="249.5" y1="283.4" x2="249.5" y2="299.2" stroke="#1c1c1c" stroke-width="1.1" stroke-linecap="butt"/>
<line x1="243.5" y1="262" x2="243.5" y2="330" stroke="#1c1c1c" stroke-width="0.8" stroke-linecap="butt" stroke-dasharray="7,1.5,1.5,1.5"/>
<line x1="233.5" y1="256.5" x2="233.5" y2="266.6" stroke="#1c1c1c" stroke-width="0.9" stroke-linecap="butt"/>
<line x1="253.5" y1="256.5" x2="253.5" y2="266.6" stroke="#1c1c1c" stroke-width="0.9" stroke-linecap="butt"/>
<line x1="233.5" y1="259.5" x2="253" y2="259.5" stroke="#1c1c1c" stroke-width="0.9" stroke-linecap="butt"/>
<path d="M233.50 259.00 L236.70 257.90 L236.70 260.10 Z" fill="#1c1c1c"/>
<path d="M253.00 259.00 L249.80 260.10 L249.80 257.90 Z" fill="#1c1c1c"/>
<text x="0" y="0" transform="translate(243.3,257) scale(0.92,1)" font-family="Liberation Sans" font-size="8.6" font-weight="normal" text-anchor="middle" fill="#1c1c1c"  stroke="#1c1c1c" stroke-width="0.28">ØD</text>
<line x1="237.5" y1="299.2" x2="237.5" y2="314" stroke="#1c1c1c" stroke-width="0.9" stroke-linecap="butt"/>
<line x1="249.5" y1="299.2" x2="249.5" y2="314" stroke="#1c1c1c" stroke-width="0.9" stroke-linecap="butt"/>
<line x1="237.5" y1="311.5" x2="249.5" y2="311.5" stroke="#1c1c1c" stroke-width="0.9" stroke-linecap="butt"/>
<path d="M237.50 311.80 L240.70 310.70 L240.70 312.90 Z" fill="#1c1c1c"/>
<path d="M249.50 311.80 L246.30 312.90 L246.30 310.70 Z" fill="#1c1c1c"/>
<line x1="249.5" y1="311.5" x2="264.6" y2="311.5" stroke="#1c1c1c" stroke-width="0.9" stroke-linecap="butt"/>
<text x="0" y="0" transform="translate(251.8,310.8) scale(0.92,1)" font-family="Liberation Sans" font-size="8.4" font-weight="normal" text-anchor="start" fill="#1c1c1c"  stroke="#1c1c1c" stroke-width="0.28">Ød</text>
<line x1="218.5" y1="299.2" x2="218.5" y2="330" stroke="#1c1c1c" stroke-width="0.9" stroke-linecap="butt"/>
<line x1="299.5" y1="262" x2="299.5" y2="330" stroke="#1c1c1c" stroke-width="0.8" stroke-linecap="butt" stroke-dasharray="7,1.5,1.5,1.5"/>
<line x1="218.6" y1="326.5" x2="243.5" y2="326.5" stroke="#1c1c1c" stroke-width="0.9" stroke-linecap="butt"/>
<path d="M218.60 326.80 L221.80 325.70 L221.80 327.90 Z" fill="#1c1c1c"/>
<path d="M243.50 326.80 L240.30 327.90 L240.30 325.70 Z" fill="#1c1c1c"/>
<line x1="243.5" y1="326.5" x2="299.5" y2="326.5" stroke="#1c1c1c" stroke-width="0.9" stroke-linecap="butt"/>
<path d="M243.50 326.80 L246.70 325.70 L246.70 327.90 Z" fill="#1c1c1c"/>
<path d="M299.50 326.80 L296.30 327.90 L296.30 325.70 Z" fill="#1c1c1c"/>
<text x="0" y="0" transform="translate(230,325) scale(0.8,1)" font-family="Liberation Sans" font-size="8.4" font-weight="normal" text-anchor="middle" fill="#1c1c1c"  stroke="#1c1c1c" stroke-width="0.28">E</text>
<text x="0" y="0" transform="translate(270.7,325) scale(0.85,1)" font-family="Liberation Sans" font-size="8.4" font-weight="normal" text-anchor="middle" fill="#1c1c1c"  stroke="#1c1c1c" stroke-width="0.28">P</text>
<defs><linearGradient id="railgrad" x1="0" y1="0" x2="0" y2="1"><stop offset="0" stop-color="#6a6a6a"/><stop offset="1" stop-color="#a8a8a8"/></linearGradient></defs>
<line x1="278.6" y1="266.7" x2="320.5" y2="266.7" stroke="#1c1c1c" stroke-width="1.4" stroke-linecap="butt"/>
<line x1="278.6" y1="270.5" x2="320.5" y2="270.5" stroke="#1c1c1c" stroke-width="1.0" stroke-linecap="butt"/>
<line x1="278.6" y1="274.5" x2="320.5" y2="274.5" stroke="#1c1c1c" stroke-width="1.0" stroke-linecap="butt"/>
<rect x="278.6" y="277.2" width="41.89999999999998" height="2.4" fill="#2a2a2a"/>
<rect x="278.6" y="279.6" width="41.89999999999998" height="4.4" fill="url(#railgrad)"/>
<line x1="278.6" y1="284.5" x2="320.5" y2="284.5" stroke="#1c1c1c" stroke-width="1.0" stroke-linecap="butt"/>
<line x1="469.2" y1="266.7" x2="527.4" y2="266.7" stroke="#1c1c1c" stroke-width="1.4" stroke-linecap="butt"/>
<line x1="469.2" y1="270.5" x2="527.4" y2="270.5" stroke="#1c1c1c" stroke-width="1.0" stroke-linecap="butt"/>
<line x1="469.2" y1="274.5" x2="527.4" y2="274.5" stroke="#1c1c1c" stroke-width="1.0" stroke-linecap="butt"/>
<rect x="469.2" y="277.2" width="58.19999999999999" height="2.4" fill="#2a2a2a"/>
<rect x="469.2" y="279.6" width="58.19999999999999" height="4.4" fill="url(#railgrad)"/>
<line x1="469.2" y1="284.5" x2="527.4" y2="284.5" stroke="#1c1c1c" stroke-width="1.0" stroke-linecap="butt"/>
<line x1="634.7" y1="266.7" x2="692.2" y2="266.7" stroke="#1c1c1c" stroke-width="1.4" stroke-linecap="butt"/>
<line x1="634.7" y1="270.5" x2="692.2" y2="270.5" stroke="#1c1c1c" stroke-width="1.0" stroke-linecap="butt"/>
<line x1="634.7" y1="274.5" x2="692.2" y2="274.5" stroke="#1c1c1c" stroke-width="1.0" stroke-linecap="butt"/>
<rect x="634.7" y="277.2" width="57.5" height="2.4" fill="#2a2a2a"/>
<rect x="634.7" y="279.6" width="57.5" height="4.4" fill="url(#railgrad)"/>
<line x1="634.7" y1="284.5" x2="692.2" y2="284.5" stroke="#1c1c1c" stroke-width="1.0" stroke-linecap="butt"/>
<line x1="279" y1="288.5" x2="692.2" y2="288.5" stroke="#1c1c1c" stroke-width="1.0" stroke-linecap="butt"/>
<line x1="279" y1="290.5" x2="692.2" y2="290.5" stroke="#1c1c1c" stroke-width="1.0" stroke-linecap="butt"/>
<rect x="279.5" y="296.9" width="412.70000000000005" height="2.5" fill="#7a7a7a"/>
<line x1="279.5" y1="299.5" x2="692.2" y2="299.5" stroke="#555" stroke-width="0.6" stroke-linecap="butt"/>
<line x1="193" y1="266.6" x2="278.6" y2="266.6" stroke="#1c1c1c" stroke-width="1.4" stroke-linecap="butt"/>
<line x1="692.5" y1="266.6" x2="692.5" y2="299" stroke="#1c1c1c" stroke-width="1.2" stroke-linecap="butt"/>
<line x1="692.5" y1="299" x2="692.5" y2="328" stroke="#1c1c1c" stroke-width="0.9" stroke-linecap="butt"/>
<line x1="289.5" y1="267.5" x2="289.5" y2="284.5" stroke="#1c1c1c" stroke-width="1.1" stroke-linecap="butt" stroke-dasharray="2.6,0.9"/>
<line x1="309.5" y1="267.5" x2="309.5" y2="284.5" stroke="#1c1c1c" stroke-width="1.1" stroke-linecap="butt" stroke-dasharray="2.6,0.9"/>
<line x1="292.5" y1="284.5" x2="292.5" y2="297" stroke="#1c1c1c" stroke-width="1.1" stroke-linecap="butt" stroke-dasharray="2.6,0.9"/>
<line x1="305.5" y1="284.5" x2="305.5" y2="297" stroke="#1c1c1c" stroke-width="1.1" stroke-linecap="butt" stroke-dasharray="2.6,0.9"/>
<line x1="657.5" y1="267.5" x2="657.5" y2="284.5" stroke="#1c1c1c" stroke-width="1.1" stroke-linecap="butt" stroke-dasharray="2.6,0.9"/>
<line x1="677.5" y1="267.5" x2="677.5" y2="284.5" stroke="#1c1c1c" stroke-width="1.1" stroke-linecap="butt" stroke-dasharray="2.6,0.9"/>
<line x1="660.5" y1="284.5" x2="660.5" y2="297" stroke="#1c1c1c" stroke-width="1.1" stroke-linecap="butt" stroke-dasharray="2.6,0.9"/>
<line x1="673.5" y1="284.5" x2="673.5" y2="297" stroke="#1c1c1c" stroke-width="1.1" stroke-linecap="butt" stroke-dasharray="2.6,0.9"/>
<line x1="667.5" y1="262" x2="667.5" y2="328" stroke="#1c1c1c" stroke-width="0.8" stroke-linecap="butt" stroke-dasharray="7,1.5,1.5,1.5"/>
<line x1="667" y1="326.5" x2="692.2" y2="326.5" stroke="#1c1c1c" stroke-width="0.9" stroke-linecap="butt"/>
<path d="M667.00 326.40 L670.20 325.30 L670.20 327.50 Z" fill="#1c1c1c"/>
<path d="M692.20 326.40 L689.00 327.50 L689.00 325.30 Z" fill="#1c1c1c"/>
<text x="0" y="0" transform="translate(678.7,324.9) scale(0.8,1)" font-family="Liberation Sans" font-size="8.4" font-weight="normal" text-anchor="middle" fill="#1c1c1c"  stroke="#1c1c1c" stroke-width="0.28">E</text>
<path d="M504.1 263.8 L500 280 L502 281 L494.2 302.9" stroke="#1c1c1c" stroke-width="0.8" fill="none" />
<path d="M506 264.5 L502 281 L500 280 L492.8 302.4" stroke="#1c1c1c" stroke-width="0.8" fill="none" />
<rect x="320.5" y="240.4" width="148.7" height="47.20000000000002" fill="#fff"/>
<line x1="325.5" y1="240.5" x2="464.2" y2="240.5" stroke="#1c1c1c" stroke-width="1.2" stroke-linecap="butt"/>
<line x1="320.5" y1="242.5" x2="469.2" y2="242.5" stroke="#1c1c1c" stroke-width="1.1" stroke-linecap="butt"/>
<line x1="320.5" y1="242.2" x2="320.5" y2="287.6" stroke="#1c1c1c" stroke-width="1.2" stroke-linecap="butt"/>
<line x1="469.5" y1="242.2" x2="469.5" y2="287.6" stroke="#1c1c1c" stroke-width="1.2" stroke-linecap="butt"/>
<line x1="325.5" y1="240.4" x2="325.5" y2="287.6" stroke="#1c1c1c" stroke-width="1.2" stroke-linecap="butt"/>
<line x1="464.5" y1="240.4" x2="464.5" y2="287.6" stroke="#1c1c1c" stroke-width="1.2" stroke-linecap="butt"/>
<line x1="343.5" y1="240.4" x2="343.5" y2="287.6" stroke="#1c1c1c" stroke-width="1.2" stroke-linecap="butt"/>
<line x1="446.5" y1="240.4" x2="446.5" y2="287.6" stroke="#1c1c1c" stroke-width="1.2" stroke-linecap="butt"/>
<line x1="343.6" y1="257.5" x2="446.1" y2="257.5" stroke="#1c1c1c" stroke-width="1.0" stroke-linecap="butt"/>
<line x1="343.6" y1="259.5" x2="446.1" y2="259.5" stroke="#1c1c1c" stroke-width="1.2" stroke-linecap="butt"/>
<rect x="320.5" y="283.1" width="148.7" height="1.6" fill="#8a8a8a"/>
<line x1="320.5" y1="287.5" x2="469.2" y2="287.5" stroke="#1c1c1c" stroke-width="1.3" stroke-linecap="butt"/>
<path d="M350.7 259.2 L351.9 280.2 Q352.7 286.6 356.7 286.6 L365.1 286.6 Q369.1 286.6 369.90000000000003 280.2 L371.1 259.2" stroke="#1c1c1c" stroke-width="1.1" fill="#fff" />
<path d="M419.2 259.2 L420.4 280.2 Q421.2 286.6 425.2 286.6 L431.6 286.6 Q435.6 286.6 436.40000000000003 280.2 L437.6 259.2" stroke="#1c1c1c" stroke-width="1.1" fill="#fff" />
<rect x="353.9" y="240.8" width="13.2" height="1.8" fill="#444"/>
<rect x="353.9" y="257.2" width="13.2" height="2.2" fill="#444"/>
<line x1="354.5" y1="241.4" x2="354.5" y2="259" stroke="#1c1c1c" stroke-width="1.2" stroke-linecap="butt" stroke-dasharray="2.4,0.8"/>
<line x1="366.5" y1="241.4" x2="366.5" y2="259" stroke="#1c1c1c" stroke-width="1.2" stroke-linecap="butt" stroke-dasharray="2.4,0.8"/>
<line x1="360.5" y1="236" x2="360.5" y2="263" stroke="#1c1c1c" stroke-width="0.8" stroke-linecap="butt" stroke-dasharray="5,1.2,1.2,1.2"/>
<rect x="422.29999999999995" y="240.8" width="13.2" height="1.8" fill="#444"/>
<rect x="422.29999999999995" y="257.2" width="13.2" height="2.2" fill="#444"/>
<line x1="422.5" y1="241.4" x2="422.5" y2="259" stroke="#1c1c1c" stroke-width="1.2" stroke-linecap="butt" stroke-dasharray="2.4,0.8"/>
<line x1="434.5" y1="241.4" x2="434.5" y2="259" stroke="#1c1c1c" stroke-width="1.2" stroke-linecap="butt" stroke-dasharray="2.4,0.8"/>
<line x1="428.5" y1="236" x2="428.5" y2="263" stroke="#1c1c1c" stroke-width="0.8" stroke-linecap="butt" stroke-dasharray="5,1.2,1.2,1.2"/>
<circle cx="334.4" cy="252.9" r="5.5" stroke="#1c1c1c" stroke-width="1.9" fill="#fff"/>
<circle cx="334.4" cy="252.9" r="1.5" stroke="#1c1c1c" stroke-width="1.0" fill="none"/>
<circle cx="454.8" cy="252.9" r="5.5" stroke="#1c1c1c" stroke-width="1.9" fill="#fff"/>
<circle cx="454.8" cy="252.9" r="1.5" stroke="#1c1c1c" stroke-width="1.0" fill="none"/>
<g transform="translate(320.5,252.9) scale(1,1)">
<line x1="-23" y1="0.5" x2="6" y2="0.5" stroke="#999" stroke-width="0.5" stroke-linecap="butt"/>
<path d="M-0.8 -7.4 L-9.4 -7.4 L-9.4 7.5 L-0.8 7.5" stroke="#1c1c1c" stroke-width="1.0" fill="#fff" />
<rect x="-2.2" y="-6.6" width="1.6" height="13.2" fill="#222"/>
<path d="M-7.5 -6 Q-9.6 0 -7.5 6" stroke="#1c1c1c" stroke-width="0.9" fill="none" />
<circle cx="-13.2" cy="0" r="6.5" stroke="#1c1c1c" stroke-width="1.9" fill="#fff"/>
<path d="M-8.6 -4.6 Q-6.6 0 -8.6 4.6" stroke="#1c1c1c" stroke-width="1.0" fill="none" />
<circle cx="-15.2" cy="0" r="3.2" stroke="#1c1c1c" stroke-width="1.4" fill="none"/>
<circle cx="-15.2" cy="0" r="1.3" stroke="#1c1c1c" stroke-width="0.9" fill="none"/>
</g>
<rect x="527.4" y="240.4" width="107.30000000000007" height="47.20000000000002" fill="#fff"/>
<line x1="532.4" y1="240.5" x2="629.7" y2="240.5" stroke="#1c1c1c" stroke-width="1.2" stroke-linecap="butt"/>
<line x1="527.4" y1="242.5" x2="634.7" y2="242.5" stroke="#1c1c1c" stroke-width="1.1" stroke-linecap="butt"/>
<line x1="527.5" y1="242.2" x2="527.5" y2="287.6" stroke="#1c1c1c" stroke-width="1.2" stroke-linecap="butt"/>
<line x1="634.5" y1="242.2" x2="634.5" y2="287.6" stroke="#1c1c1c" stroke-width="1.2" stroke-linecap="butt"/>
<line x1="532.5" y1="240.4" x2="532.5" y2="287.6" stroke="#1c1c1c" stroke-width="1.2" stroke-linecap="butt"/>
<line x1="629.5" y1="240.4" x2="629.5" y2="287.6" stroke="#1c1c1c" stroke-width="1.2" stroke-linecap="butt"/>
<line x1="550.5" y1="240.4" x2="550.5" y2="287.6" stroke="#1c1c1c" stroke-width="1.2" stroke-linecap="butt"/>
<line x1="611.5" y1="240.4" x2="611.5" y2="287.6" stroke="#1c1c1c" stroke-width="1.2" stroke-linecap="butt"/>
<line x1="550.2" y1="257.5" x2="611.9" y2="257.5" stroke="#1c1c1c" stroke-width="1.0" stroke-linecap="butt"/>
<line x1="550.2" y1="259.5" x2="611.9" y2="259.5" stroke="#1c1c1c" stroke-width="1.2" stroke-linecap="butt"/>
<rect x="527.4" y="283.1" width="107.30000000000007" height="1.6" fill="#8a8a8a"/>
<line x1="527.4" y1="287.5" x2="634.7" y2="287.5" stroke="#1c1c1c" stroke-width="1.3" stroke-linecap="butt"/>
<path d="M570.4 259.2 L571.6 280.2 Q572.4 286.6 576.4 286.6 L585.9 286.6 Q589.9 286.6 590.6999999999999 280.2 L591.9 259.2" stroke="#1c1c1c" stroke-width="1.1" fill="#fff" />
<rect x="573.8" y="240.8" width="13.2" height="1.8" fill="#444"/>
<rect x="573.8" y="257.2" width="13.2" height="2.2" fill="#444"/>
<line x1="574.5" y1="241.4" x2="574.5" y2="259" stroke="#1c1c1c" stroke-width="1.2" stroke-linecap="butt" stroke-dasharray="2.4,0.8"/>
<line x1="586.5" y1="241.4" x2="586.5" y2="259" stroke="#1c1c1c" stroke-width="1.2" stroke-linecap="butt" stroke-dasharray="2.4,0.8"/>
<line x1="580.5" y1="236" x2="580.5" y2="263" stroke="#1c1c1c" stroke-width="0.8" stroke-linecap="butt" stroke-dasharray="5,1.2,1.2,1.2"/>
<circle cx="541.1" cy="252.9" r="5.5" stroke="#1c1c1c" stroke-width="1.9" fill="#fff"/>
<circle cx="541.1" cy="252.9" r="1.5" stroke="#1c1c1c" stroke-width="1.0" fill="none"/>
<circle cx="620.3" cy="252.9" r="5.5" stroke="#1c1c1c" stroke-width="1.9" fill="#fff"/>
<circle cx="620.3" cy="252.9" r="1.5" stroke="#1c1c1c" stroke-width="1.0" fill="none"/>
<g transform="translate(634.7,252.9) scale(-1,1)">
<line x1="-23" y1="0.5" x2="6" y2="0.5" stroke="#999" stroke-width="0.5" stroke-linecap="butt"/>
<path d="M-0.8 -7.4 L-9.4 -7.4 L-9.4 7.5 L-0.8 7.5" stroke="#1c1c1c" stroke-width="1.0" fill="#fff" />
<rect x="-2.2" y="-6.6" width="1.6" height="13.2" fill="#222"/>
<path d="M-7.5 -6 Q-9.6 0 -7.5 6" stroke="#1c1c1c" stroke-width="0.9" fill="none" />
<circle cx="-13.2" cy="0" r="6.5" stroke="#1c1c1c" stroke-width="1.9" fill="#fff"/>
<path d="M-8.6 -4.6 Q-6.6 0 -8.6 4.6" stroke="#1c1c1c" stroke-width="1.0" fill="none" />
<circle cx="-15.2" cy="0" r="3.2" stroke="#1c1c1c" stroke-width="1.4" fill="none"/>
<circle cx="-15.2" cy="0" r="1.3" stroke="#1c1c1c" stroke-width="0.9" fill="none"/>
</g>
<line x1="301.5" y1="197" x2="301.5" y2="251" stroke="#1c1c1c" stroke-width="0.9" stroke-linecap="butt"/>
<line x1="320.5" y1="197" x2="320.5" y2="245" stroke="#1c1c1c" stroke-width="0.9" stroke-linecap="butt"/>
<line x1="301.5" y1="199.5" x2="320.6" y2="199.5" stroke="#1c1c1c" stroke-width="0.9" stroke-linecap="butt"/>
<path d="M301.50 199.60 L304.70 198.50 L304.70 200.70 Z" fill="#1c1c1c"/>
<path d="M320.60 199.60 L317.40 200.70 L317.40 198.50 Z" fill="#1c1c1c"/>
<text x="0" y="0" transform="translate(310.2,197.8) scale(0.78,1)" font-family="Liberation Sans" font-size="8.6" font-weight="normal" text-anchor="middle" fill="#1c1c1c"  stroke="#1c1c1c" stroke-width="0.28">G</text>
<line x1="469.5" y1="197" x2="469.5" y2="241" stroke="#1c1c1c" stroke-width="0.9" stroke-linecap="butt"/>
<line x1="320.6" y1="199.5" x2="469.3" y2="199.5" stroke="#1c1c1c" stroke-width="0.9" stroke-linecap="butt"/>
<path d="M320.60 199.80 L323.80 198.70 L323.80 200.90 Z" fill="#1c1c1c"/>
<path d="M469.30 199.80 L466.10 200.90 L466.10 198.70 Z" fill="#1c1c1c"/>
<text x="0" y="0" transform="translate(392.2,199) scale(0.9,1)" font-family="Liberation Sans" font-size="8.4" font-weight="normal" text-anchor="start" fill="#1c1c1c"  stroke="#1c1c1c" stroke-width="0.28">L</text>
<line x1="334.5" y1="208" x2="334.5" y2="246" stroke="#1c1c1c" stroke-width="0.9" stroke-linecap="butt"/>
<line x1="343.5" y1="208" x2="343.5" y2="241" stroke="#1c1c1c" stroke-width="0.9" stroke-linecap="butt"/>
<line x1="334.4" y1="210.5" x2="343.6" y2="210.5" stroke="#1c1c1c" stroke-width="0.9" stroke-linecap="butt"/>
<path d="M334.40 210.60 L337.60 209.50 L337.60 211.70 Z" fill="#1c1c1c"/>
<path d="M343.60 210.60 L340.40 211.70 L340.40 209.50 Z" fill="#1c1c1c"/>
<line x1="323" y1="210.5" x2="334.4" y2="210.5" stroke="#1c1c1c" stroke-width="0.9" stroke-linecap="butt"/>
<text x="0" y="0" transform="translate(323.2,208.9) scale(0.92,1)" font-family="Liberation Sans" font-size="7.8" fill="#1c1c1c" text-anchor="start" stroke="#1c1c1c" stroke-width="0.28" >K<tspan font-size="6.2" dy="0.6">2</tspan></text>
<line x1="446.5" y1="208" x2="446.5" y2="241" stroke="#1c1c1c" stroke-width="0.9" stroke-linecap="butt"/>
<line x1="343.6" y1="210.5" x2="446.1" y2="210.5" stroke="#1c1c1c" stroke-width="0.9" stroke-linecap="butt"/>
<path d="M343.60 210.60 L346.80 209.50 L346.80 211.70 Z" fill="#1c1c1c"/>
<path d="M446.10 210.60 L442.90 211.70 L442.90 209.50 Z" fill="#1c1c1c"/>
<text x="0" y="0" transform="translate(392.2,209) scale(0.9,1)" font-family="Liberation Sans" font-size="8.4" fill="#1c1c1c" text-anchor="start" stroke="#1c1c1c" stroke-width="0.28" >L<tspan font-size="6" dy="1.0">1</tspan></text>
<line x1="360.5" y1="220" x2="360.5" y2="241" stroke="#1c1c1c" stroke-width="0.9" stroke-linecap="butt"/>
<line x1="428.5" y1="220" x2="428.5" y2="241" stroke="#1c1c1c" stroke-width="0.9" stroke-linecap="butt"/>
<line x1="360.5" y1="222.5" x2="428.9" y2="222.5" stroke="#1c1c1c" stroke-width="0.9" stroke-linecap="butt"/>
<path d="M360.50 222.60 L363.70 221.50 L363.70 223.70 Z" fill="#1c1c1c"/>
<path d="M428.90 222.60 L425.70 223.70 L425.70 221.50 Z" fill="#1c1c1c"/>
<text x="0" y="0" transform="translate(394.1,221.6) scale(0.85,1)" font-family="Liberation Sans" font-size="8.4" font-weight="normal" text-anchor="middle" fill="#1c1c1c"  stroke="#1c1c1c" stroke-width="0.28">C</text>
<text x="390.2" y="236" font-family="Liberation Sans" font-size="8.6" font-weight="normal" text-anchor="start" fill="#1c1c1c" textLength="15.8" lengthAdjust="spacingAndGlyphs" stroke="#1c1c1c" stroke-width="0.15">4-M</text>
<path d="M362.7 240.3 L382.6 232.6 L389 232.6" stroke="#1c1c1c" stroke-width="0.9" fill="none" />
<line x1="469.2" y1="241.5" x2="486" y2="241.5" stroke="#1c1c1c" stroke-width="0.9" stroke-linecap="butt"/>
<line x1="440" y1="252.5" x2="486" y2="252.5" stroke="#1c1c1c" stroke-width="0.9" stroke-linecap="butt"/>
<line x1="484.5" y1="241.5" x2="484.5" y2="252" stroke="#1c1c1c" stroke-width="0.9" stroke-linecap="butt"/>
<path d="M484.60 241.50 L485.70 244.70 L483.50 244.70 Z" fill="#1c1c1c"/>
<path d="M484.60 252.00 L483.50 248.80 L485.70 248.80 Z" fill="#1c1c1c"/>
<text font-family="Liberation Sans" font-size="8.4" fill="#1c1c1c" transform="translate(479.9,251.3) rotate(-90) scale(0.88,1)" stroke="#1c1c1c" stroke-width="0.28" >H<tspan font-size="5.8" dy="1.6">3</tspan></text>
<line x1="527.5" y1="197" x2="527.5" y2="245" stroke="#1c1c1c" stroke-width="0.9" stroke-linecap="butt"/>
<line x1="634.5" y1="197" x2="634.5" y2="245" stroke="#1c1c1c" stroke-width="0.9" stroke-linecap="butt"/>
<line x1="653.5" y1="197" x2="653.5" y2="253" stroke="#1c1c1c" stroke-width="0.9" stroke-linecap="butt"/>
<line x1="527.4" y1="199.5" x2="634.7" y2="199.5" stroke="#1c1c1c" stroke-width="0.9" stroke-linecap="butt"/>
<path d="M527.40 199.80 L530.60 198.70 L530.60 200.90 Z" fill="#1c1c1c"/>
<path d="M634.70 199.80 L631.50 200.90 L631.50 198.70 Z" fill="#1c1c1c"/>
<line x1="634.7" y1="199.5" x2="653.5" y2="199.5" stroke="#1c1c1c" stroke-width="0.9" stroke-linecap="butt"/>
<path d="M634.70 199.80 L637.90 198.70 L637.90 200.90 Z" fill="#1c1c1c"/>
<path d="M653.50 199.80 L650.30 200.90 L650.30 198.70 Z" fill="#1c1c1c"/>
<text x="0" y="0" transform="translate(578.1,198.2) scale(0.9,1)" font-family="Liberation Sans" font-size="8.4" font-weight="normal" text-anchor="start" fill="#1c1c1c"  stroke="#1c1c1c" stroke-width="0.28">L</text>
<text x="0" y="0" transform="translate(643.6,198) scale(0.78,1)" font-family="Liberation Sans" font-size="8.6" font-weight="normal" text-anchor="middle" fill="#1c1c1c"  stroke="#1c1c1c" stroke-width="0.28">G</text>
<line x1="541.5" y1="208" x2="541.5" y2="246" stroke="#1c1c1c" stroke-width="0.9" stroke-linecap="butt"/>
<line x1="549.5" y1="208" x2="549.5" y2="241" stroke="#1c1c1c" stroke-width="0.9" stroke-linecap="butt"/>
<line x1="611.5" y1="208" x2="611.5" y2="241" stroke="#1c1c1c" stroke-width="0.9" stroke-linecap="butt"/>
<line x1="541.1" y1="210.5" x2="549.9" y2="210.5" stroke="#1c1c1c" stroke-width="0.9" stroke-linecap="butt"/>
<path d="M541.10 210.60 L544.30 209.50 L544.30 211.70 Z" fill="#1c1c1c"/>
<path d="M549.90 210.60 L546.70 211.70 L546.70 209.50 Z" fill="#1c1c1c"/>
<line x1="529" y1="210.5" x2="541.1" y2="210.5" stroke="#1c1c1c" stroke-width="0.9" stroke-linecap="butt"/>
<line x1="549.9" y1="210.5" x2="611.9" y2="210.5" stroke="#1c1c1c" stroke-width="0.9" stroke-linecap="butt"/>
<path d="M549.90 210.60 L553.10 209.50 L553.10 211.70 Z" fill="#1c1c1c"/>
<path d="M611.90 210.60 L608.70 211.70 L608.70 209.50 Z" fill="#1c1c1c"/>
<text x="0" y="0" transform="translate(530.3,208.9) scale(0.92,1)" font-family="Liberation Sans" font-size="7.8" fill="#1c1c1c" text-anchor="start" stroke="#1c1c1c" stroke-width="0.28" >K<tspan font-size="6.2" dy="0.6">2</tspan></text>
<text x="0" y="0" transform="translate(578.2,209) scale(0.9,1)" font-family="Liberation Sans" font-size="8.4" fill="#1c1c1c" text-anchor="start" stroke="#1c1c1c" stroke-width="0.28" >L<tspan font-size="6" dy="1.0">1</tspan></text>
<text x="573.8" y="231.2" font-family="Liberation Sans" font-size="8.6" font-weight="normal" text-anchor="start" fill="#1c1c1c" textLength="15.6" lengthAdjust="spacingAndGlyphs" stroke="#1c1c1c" stroke-width="0.15">2-M</text>
<path d="M569.5 227.6 L562.5 227.6 L580.4 239.8" stroke="#1c1c1c" stroke-width="0.9" fill="none" />
<text x="378.6" y="316" font-family="Liberation Sans" font-size="7" font-weight="bold" text-anchor="start" fill="#1c1c1c" textLength="29.3" lengthAdjust="spacingAndGlyphs">EGW-CB</text>
<text x="568.6" y="316" font-family="Liberation Sans" font-size="7" font-weight="bold" text-anchor="start" fill="#1c1c1c" textLength="29.3" lengthAdjust="spacingAndGlyphs">EGW-SB</text>
<path d="M330.60 399.90 A39.84 39.84 0 0 1 380.80 399.90" stroke="#1c1c1c" stroke-width="4.1" fill="none"/>
<path d="M330.60 399.90 A39.84 39.84 0 0 1 380.80 399.90" stroke="#fff" stroke-width="1.9" fill="none"/>
<path d="M322.60 407.20 L326.10 395.50 L330.00 400.60 L334.30 404.00 Z" stroke="#1c1c1c" stroke-width="1.15" fill="#fff" stroke-linejoin="miter"/>
<path d="M388.80 407.20 L385.30 395.50 L381.40 400.60 L377.10 404.00 Z" stroke="#1c1c1c" stroke-width="1.15" fill="#fff" stroke-linejoin="miter"/>
<text x="349.6" y="383.5" font-family="Liberation Sans" font-size="8.2" font-weight="normal" text-anchor="start" fill="#1c1c1c" stroke="#1c1c1c" stroke-width="0.25" textLength="7.2" lengthAdjust="spacingAndGlyphs">M</text>
<text x="357.8" y="384.2" font-family="Liberation Sans" font-size="5.4" font-weight="normal" text-anchor="start" fill="#1c1c1c" stroke="#1c1c1c" stroke-width="0.25">R</text>
<path d="M441.50 394.90 A42.21 42.21 0 0 1 491.50 394.90" stroke="#1c1c1c" stroke-width="4.1" fill="none"/>
<path d="M441.50 394.90 A42.21 42.21 0 0 1 491.50 394.90" stroke="#fff" stroke-width="1.9" fill="none"/>
<path d="M433.50 402.20 L437.00 390.50 L440.90 395.60 L445.20 399.00 Z" stroke="#1c1c1c" stroke-width="1.15" fill="#fff" stroke-linejoin="miter"/>
<path d="M499.50 402.20 L496.00 390.50 L492.10 395.60 L487.80 399.00 Z" stroke="#1c1c1c" stroke-width="1.15" fill="#fff" stroke-linejoin="miter"/>
<text x="461.5" y="379.7" font-family="Liberation Sans" font-size="8.2" font-weight="normal" text-anchor="start" fill="#1c1c1c" stroke="#1c1c1c" stroke-width="0.25" textLength="6.9" lengthAdjust="spacingAndGlyphs">M</text>
<text x="470" y="381" font-family="Liberation Sans" font-size="5.4" font-weight="normal" text-anchor="start" fill="#1c1c1c" stroke="#1c1c1c" stroke-width="0.25">P</text>
<path d="M565.30 379.30 A45.58 45.58 0 0 1 615.70 379.30" stroke="#1c1c1c" stroke-width="4.1" fill="none"/>
<path d="M565.30 379.30 A45.58 45.58 0 0 1 615.70 379.30" stroke="#fff" stroke-width="1.9" fill="none"/>
<path d="M557.30 386.60 L560.80 374.90 L564.70 380.00 L569.00 383.40 Z" stroke="#1c1c1c" stroke-width="1.15" fill="#fff" stroke-linejoin="miter"/>
<path d="M623.70 386.60 L620.20 374.90 L616.30 380.00 L612.00 383.40 Z" stroke="#1c1c1c" stroke-width="1.15" fill="#fff" stroke-linejoin="miter"/>
<text x="585.3" y="364.7" font-family="Liberation Sans" font-size="8.2" font-weight="normal" text-anchor="start" fill="#1c1c1c" stroke="#1c1c1c" stroke-width="0.25" textLength="7.3" lengthAdjust="spacingAndGlyphs">M</text>
<text x="593.6" y="367" font-family="Liberation Sans" font-size="5.4" font-weight="normal" text-anchor="start" fill="#1c1c1c" stroke="#1c1c1c" stroke-width="0.25">Y</text>
<path d="M331 411.2 L381.3 411.2 Q382.8 411.2 382.8 412.7 L382.8 417.5 Q382.8 419 381.3 419 L378.8 419 L375.2 430.1 L337 430.1 L333.4 419 L331 419 Q329.5 419 329.5 417.5 L329.5 412.7 Q329.5 411.2 331 411.2 Z" stroke="#1c1c1c" stroke-width="1.3" fill="#fff" />
<line x1="337.5" y1="411.5" x2="337.5" y2="430" stroke="#1c1c1c" stroke-width="1.1" stroke-linecap="butt"/>
<line x1="374.5" y1="411.5" x2="374.5" y2="430" stroke="#1c1c1c" stroke-width="1.1" stroke-linecap="butt"/>
<path d="M347.5 421.6 L364 421.6 Q364.8 421.6 364.8 422.4 L364.8 423.8 L363 425.5 L363 427.5 L364.8 429.2 L364.8 435.3 Q364.8 436.1 364 436.1 L347.5 436.1 Q346.7 436.1 346.7 435.3 L346.7 429.2 L348.5 427.5 L348.5 425.5 L346.7 423.8 L346.7 422.4 Q346.7 421.6 347.5 421.6 Z" stroke="#1c1c1c" stroke-width="1.3" fill="#fff" />
<circle cx="339.6" cy="424.6" r="2" stroke="#1c1c1c" stroke-width="0" fill="#1c1c1c"/>
<circle cx="372.2" cy="424.6" r="2" stroke="#1c1c1c" stroke-width="0" fill="#1c1c1c"/>
<path d="M351.5 416 L355.7 413.5 L359.9 416 L355.7 418.5 Z" stroke="#1c1c1c" stroke-width="0.9" fill="none"/>
<line x1="352" y1="416.5" x2="359.5" y2="416.5" stroke="#1c1c1c" stroke-width="0.9" stroke-linecap="butt"/>
<line x1="355.5" y1="408" x2="355.5" y2="437.5" stroke="#1c1c1c" stroke-width="0.6" stroke-linecap="butt" stroke-dasharray="3,1"/>
<rect x="418.2" y="421.1" width="94.4" height="11" fill="#1e1e1e"/>
<line x1="419.5" y1="422.9" x2="511.5" y2="422.9" stroke="#777" stroke-width="0.8"/>
<line x1="419.5" y1="424.8" x2="511.5" y2="424.8" stroke="#777" stroke-width="0.8"/>
<line x1="419.5" y1="429.7" x2="511.5" y2="429.7" stroke="#777" stroke-width="0.8"/>
<rect x="419.2" y="432" width="92.4" height="1.9" fill="#fff"/>
<rect x="418.2" y="433.9" width="94.4" height="1.8" fill="#1e1e1e"/>
<line x1="418.5" y1="421.2" x2="418.5" y2="436" stroke="#1c1c1c" stroke-width="1" stroke-linecap="butt"/>
<line x1="512.5" y1="421.2" x2="512.5" y2="436" stroke="#1c1c1c" stroke-width="1" stroke-linecap="butt"/>
<rect x="435.5" y="411.5" width="62.0" height="19.0" stroke="#1c1c1c" stroke-width="1.3" fill="#fff"/>
<line x1="437.5" y1="410.6" x2="437.5" y2="430" stroke="#1c1c1c" stroke-width="0.9" stroke-linecap="butt"/>
<line x1="495.5" y1="410.6" x2="495.5" y2="430" stroke="#1c1c1c" stroke-width="0.9" stroke-linecap="butt"/>
<line x1="445.5" y1="410.6" x2="445.5" y2="430" stroke="#1c1c1c" stroke-width="1.1" stroke-linecap="butt"/>
<line x1="487.5" y1="410.6" x2="487.5" y2="430" stroke="#1c1c1c" stroke-width="1.1" stroke-linecap="butt"/>
<line x1="445.1" y1="417.5" x2="487.5" y2="417.5" stroke="#1c1c1c" stroke-width="1.4" stroke-linecap="butt"/>
<circle cx="441.5" cy="415.8" r="2.5" stroke="#1c1c1c" stroke-width="1.3" fill="none"/>
<circle cx="491.5" cy="415.8" r="2.5" stroke="#1c1c1c" stroke-width="1.3" fill="none"/>
<path d="M447.3 418 L447.3 424 Q447.8 429.5 451.95000000000005 429.5 Q456.1 429.5 456.6 424 L456.6 418" stroke="#1c1c1c" stroke-width="1.0" fill="none" />
<path d="M476 418 L476 424 Q476.5 429.5 481.0 429.5 Q485.5 429.5 486 424 L486 418" stroke="#1c1c1c" stroke-width="1.0" fill="none" />
<line x1="435.1" y1="429.3" x2="497.5" y2="429.3" stroke="#1c1c1c" stroke-width="1.6" stroke-linecap="butt"/>
<rect x="542.5" y="411" width="94" height="18.6" fill="#fff"/>
<rect x="541.8" y="411.0" width="95.4" height="2.3" fill="#1c1c1c"/>
<rect x="541.8" y="428.2" width="95.4" height="2.3" fill="#1c1c1c"/>
<rect x="541.8" y="411" width="1.6" height="19.5" fill="#1c1c1c"/>
<rect x="635.6" y="411" width="1.6" height="19.5" fill="#1c1c1c"/>
<rect x="559.5" y="402.5" width="62.0" height="37.0" stroke="#1c1c1c" stroke-width="1.2" fill="#fff"/>
<line x1="561.5" y1="402.7" x2="561.5" y2="439.3" stroke="#1c1c1c" stroke-width="0.9" stroke-linecap="butt"/>
<line x1="619.5" y1="402.7" x2="619.5" y2="439.3" stroke="#1c1c1c" stroke-width="0.9" stroke-linecap="butt"/>
<rect x="569.3" y="394.5" width="42.9" height="52.2" stroke="#1c1c1c" stroke-width="1.6" fill="#fff"/>
<line x1="569.3" y1="407.2" x2="612.2" y2="407.2" stroke="#1c1c1c" stroke-width="1.6" stroke-linecap="butt"/>
<line x1="569.3" y1="415.7" x2="612.2" y2="415.7" stroke="#1c1c1c" stroke-width="1.6" stroke-linecap="butt"/>
<line x1="569.3" y1="425.8" x2="612.2" y2="425.8" stroke="#1c1c1c" stroke-width="1.6" stroke-linecap="butt"/>
<line x1="569.3" y1="434.5" x2="612.2" y2="434.5" stroke="#1c1c1c" stroke-width="1.6" stroke-linecap="butt"/>
<line x1="548.4" y1="420.5" x2="629" y2="420.5" stroke="#1c1c1c" stroke-width="0.7" stroke-linecap="butt" stroke-dasharray="3,1,1,1"/>
<circle cx="548.4" cy="420.9" r="3.1" stroke="#1c1c1c" stroke-width="1.9" fill="none"/>
<line x1="548.5" y1="417.5" x2="548.5" y2="424.3" stroke="#1c1c1c" stroke-width="0.9" stroke-linecap="butt"/>
<circle cx="629" cy="420.9" r="3.1" stroke="#1c1c1c" stroke-width="1.9" fill="none"/>
<line x1="629.5" y1="417.5" x2="629.5" y2="424.3" stroke="#1c1c1c" stroke-width="0.9" stroke-linecap="butt"/>
<rect x="561.5" y="417.5" width="7.0" height="7.0" stroke="#1c1c1c" stroke-width="0.8" fill="none"/>
<circle cx="565.3" cy="420.9" r="2.8" stroke="#1c1c1c" stroke-width="1.2" fill="none"/>
<rect x="612.5" y="417.5" width="7.0" height="7.0" stroke="#1c1c1c" stroke-width="0.8" fill="none"/>
<circle cx="615.6" cy="420.9" r="2.8" stroke="#1c1c1c" stroke-width="1.2" fill="none"/>
<circle cx="576.4" cy="399.3" r="2.3" stroke="#1c1c1c" stroke-width="1.3" fill="none"/>
<line x1="572.1999999999999" y1="399.5" x2="580.6" y2="399.5" stroke="#1c1c1c" stroke-width="0.8" stroke-linecap="butt"/>
<line x1="576.5" y1="395.1" x2="576.5" y2="403.5" stroke="#1c1c1c" stroke-width="0.8" stroke-linecap="butt"/>
<circle cx="576.4" cy="442.2" r="2.3" stroke="#1c1c1c" stroke-width="1.3" fill="none"/>
<line x1="572.1999999999999" y1="442.5" x2="580.6" y2="442.5" stroke="#1c1c1c" stroke-width="0.8" stroke-linecap="butt"/>
<line x1="576.5" y1="438.0" x2="576.5" y2="446.4" stroke="#1c1c1c" stroke-width="0.8" stroke-linecap="butt"/>
<circle cx="604.7" cy="399.3" r="2.3" stroke="#1c1c1c" stroke-width="1.3" fill="none"/>
<line x1="600.5" y1="399.5" x2="608.9000000000001" y2="399.5" stroke="#1c1c1c" stroke-width="0.8" stroke-linecap="butt"/>
<line x1="604.5" y1="395.1" x2="604.5" y2="403.5" stroke="#1c1c1c" stroke-width="0.8" stroke-linecap="butt"/>
<circle cx="604.7" cy="442.2" r="2.3" stroke="#1c1c1c" stroke-width="1.3" fill="none"/>
<line x1="600.5" y1="442.5" x2="608.9000000000001" y2="442.5" stroke="#1c1c1c" stroke-width="0.8" stroke-linecap="butt"/>
<line x1="604.5" y1="438.0" x2="604.5" y2="446.4" stroke="#1c1c1c" stroke-width="0.8" stroke-linecap="butt"/>
</svg>
</body></html>
